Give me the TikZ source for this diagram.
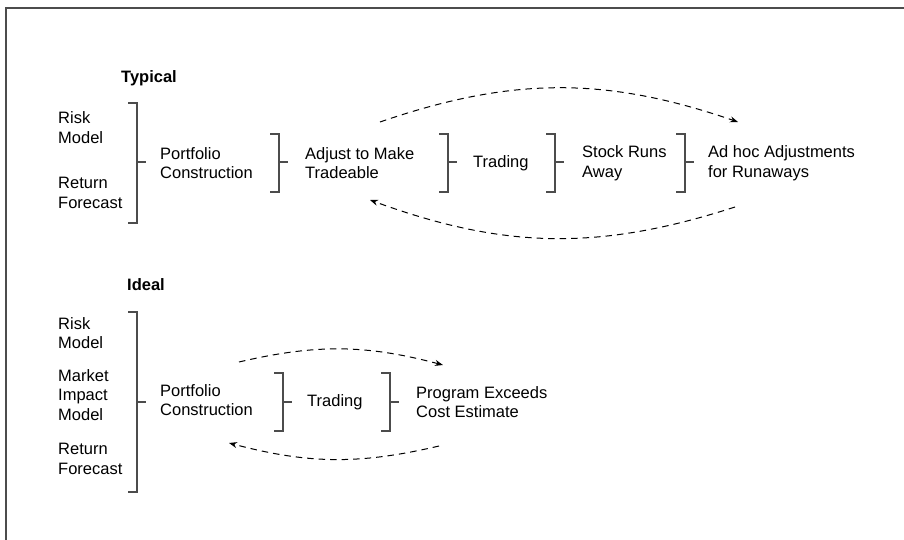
\documentclass[tikz,border=0pt]{standalone}
\usepackage{fontspec}
\setmainfont{Liberation Sans}
\usetikzlibrary{arrows.meta}
\begin{document}
\begin{tikzpicture}[x=1pt,y=-1pt,
  lbl/.style={anchor=west,align=left,inner sep=0pt,
    font=\fontsize{16.5}{19.5}\selectfont},
  head/.style={inner sep=0pt,font=\fontsize{16.5}{19.5}\selectfont\bfseries},
  brk/.style={draw=black!70,line width=1.1pt},
  feedback/.style={draw=black,line width=1pt,dash pattern=on 6.5pt off 5pt,
    -{Stealth[length=8pt,width=6pt]}}]
\useasboundingbox (0,0) rectangle (904,540);
% page frame
\draw[black!70,line width=1.4pt] (6,542) -- (6,8) -- (906,8);

% bracket: x, top, bottom, tick height
\newcommand\bracketat[4]{%
  \draw[brk] (#1-9,#2) -- (#1,#2) -- (#1,#3) -- (#1-9,#3)
             (#1,#4) -- (#1+9,#4);}

% ---------- Typical ----------
\node[head] (typ) at (149,78) {Typical};
\node[lbl] (risk1) at (58,127.5) {Risk\\Model};
\node[lbl] (ret1) at (58,193) {Return\\Forecast};
\node[lbl] (pc1) at (160,163) {Portfolio\\Construction};
\node[lbl] (adj) at (305,163) {Adjust to Make\\Tradeable};
\node[lbl] (trd1) at (473,163) {Trading};
\node[lbl] (srun) at (582,163) {Stock Runs\\Away};
\node[lbl] (adhoc) at (708,163) {Ad hoc Adjustments\\for Runaways};

\bracketat{137}{103}{223}{162}
\bracketat{279}{134}{192}{162}
\bracketat{448}{134}{192}{162}
\bracketat{555}{134}{192}{162}
\bracketat{685}{134}{192}{162}

\coordinate (t1s) at (380,122);
\coordinate (t1e) at (738,122);
\coordinate (t2s) at (735,207);
\coordinate (t2e) at (370,200);
\draw[feedback] (t1s) to[bend left=19] (t1e);
\draw[feedback] (t2s) to[bend left=19] (t2e);

% ---------- Ideal ----------
\node[head] (idl) at (146,285) {Ideal};
\node[lbl] (risk2) at (58,333) {Risk\\Model};
\node[lbl] (mim) at (58,395) {Market\\Impact\\Model};
\node[lbl] (ret2) at (58,459) {Return\\Forecast};
\node[lbl] (pc2) at (160,400) {Portfolio\\Construction};
\node[lbl] (trd2) at (307,402) {Trading};
\node[lbl] (pexc) at (416,402) {Program Exceeds\\Cost Estimate};

\bracketat{137}{312}{492}{402}
\bracketat{283}{373}{431}{402}
\bracketat{390}{373}{431}{402}

\coordinate (i1s) at (239,362);
\coordinate (i1e) at (443,365);
\coordinate (i2s) at (439,446);
\coordinate (i2e) at (229,443);
\draw[feedback] (i1s) to[bend left=14] (i1e);
\draw[feedback] (i2s) to[bend left=14] (i2e);
\end{tikzpicture}
\end{document}
